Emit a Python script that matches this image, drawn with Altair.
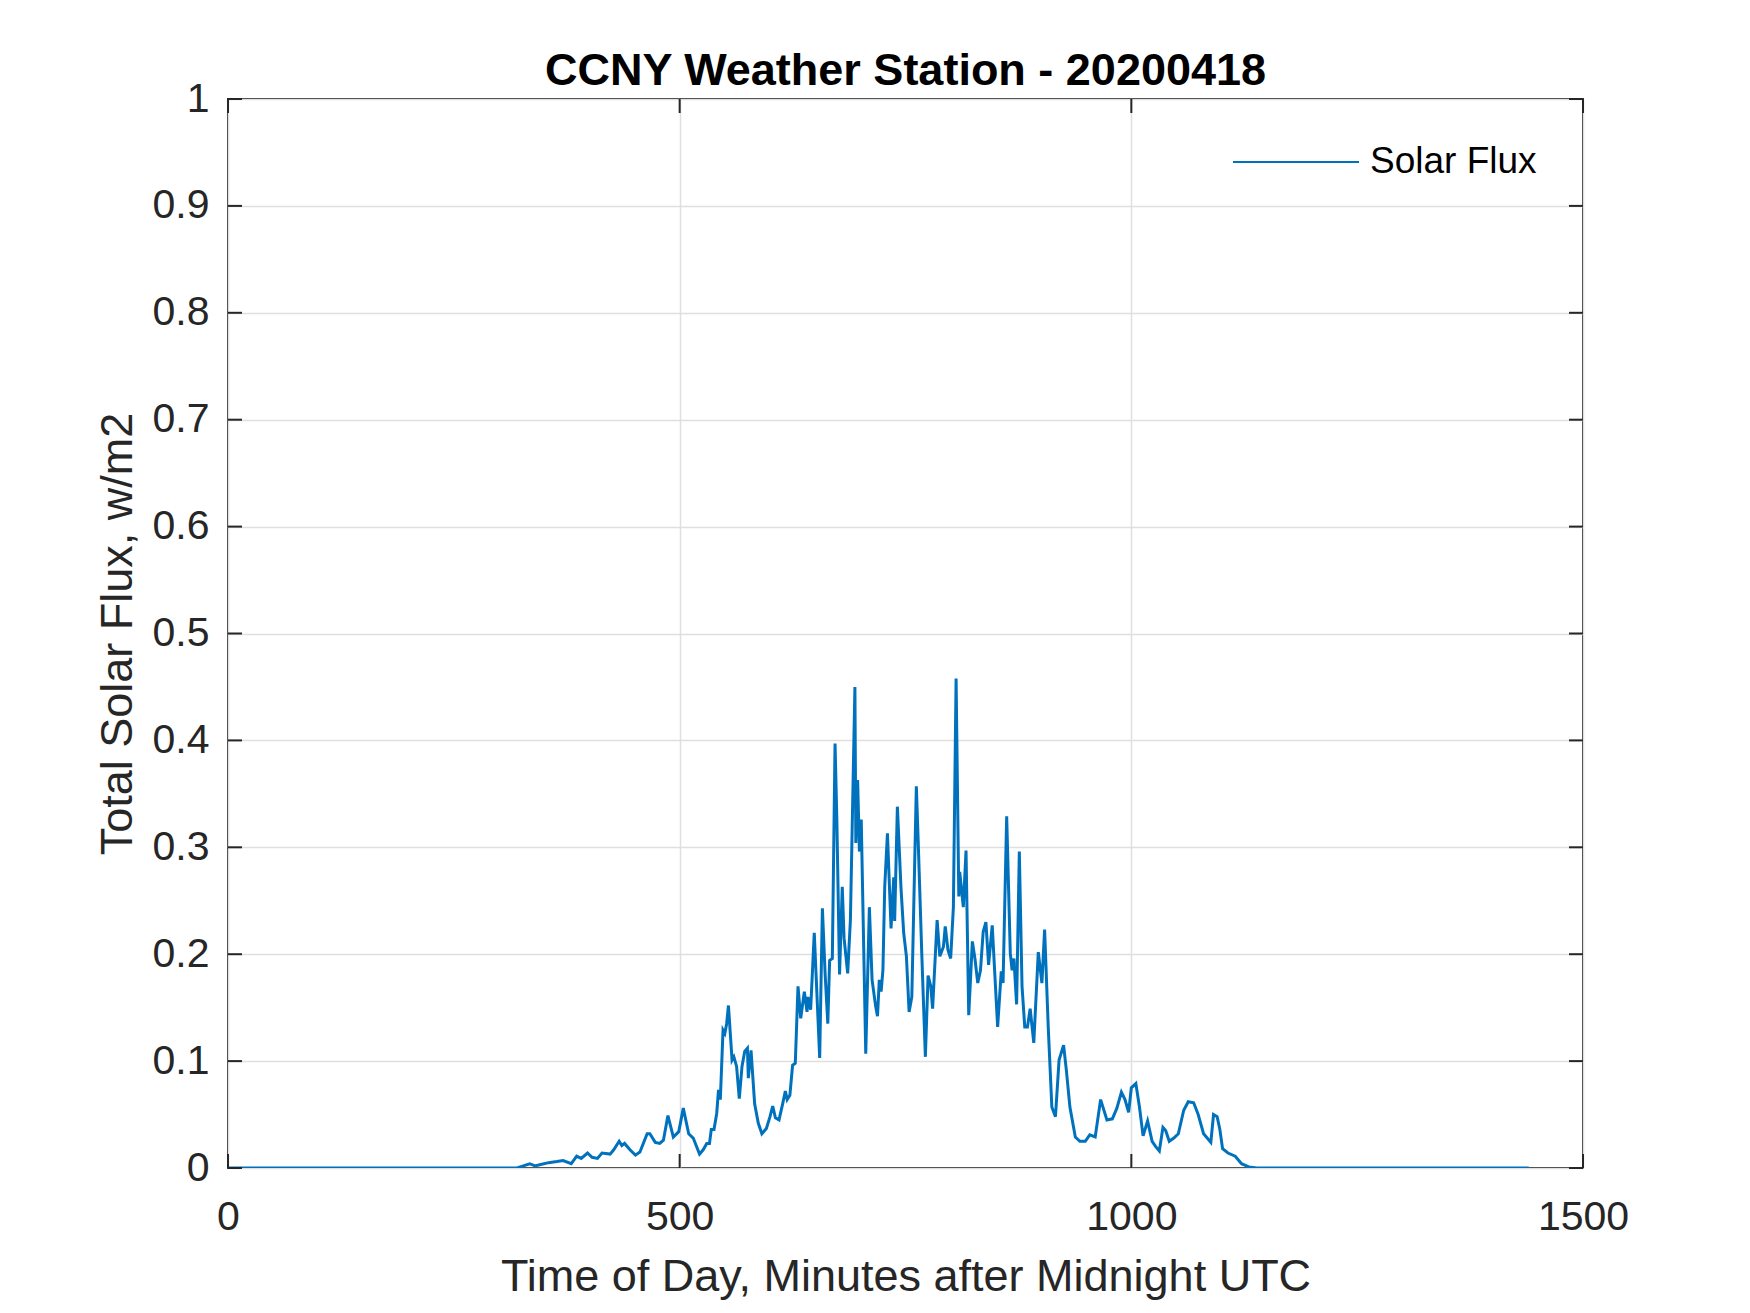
import altair as alt
import pandas as pd

# ---- data ----
minutes = [
    0, 320, 327, 334, 340, 345, 355, 364, 371, 380, 386, 391, 398, 403, 409,
    414, 423, 427, 433, 436, 439, 445, 451, 456, 464, 467, 473, 478, 482, 487,
    493, 499, 504, 510, 515, 522, 526, 530, 533, 535, 538, 541, 543, 545, 548,
    550, 552, 554, 558, 560, 563, 566, 569, 572, 575, 576, 579, 583, 587,
    591, 596, 600, 603, 606, 610, 614, 617, 619, 622, 625, 628, 631, 634, 638,
    641, 642, 645, 649, 651, 655, 658, 661, 664, 666, 669, 672, 674, 677, 680,
    682, 686, 689, 694, 695, 697, 699, 701, 706, 710, 713, 717, 719, 721, 723,
    725, 727, 730, 734, 737, 738, 741, 745, 748, 751, 754, 757, 762, 764, 768,
    772, 775, 778, 780, 785, 788, 792, 794, 797, 800, 803, 806, 809, 810, 814,
    817, 820, 824, 827, 830, 833, 836, 839, 842, 846, 852, 856, 858, 862, 866,
    868, 870, 873, 876, 879, 882, 885, 888, 892, 897, 901, 904, 908, 912, 916,
    920, 925, 928, 932, 938, 943, 949, 954, 960, 966, 973, 979, 984, 989, 993,
    997, 1000, 1005, 1009, 1013, 1018, 1023, 1027, 1031, 1035, 1038, 1042, 1047,
    1052, 1058, 1063, 1069, 1074, 1080, 1083, 1088, 1091, 1095, 1098, 1101,
    1107, 1115, 1122, 1130, 1139, 1440,
]
flux = [
    0.000, 0.000, 0.002, 0.004, 0.002, 0.003, 0.005, 0.006, 0.007, 0.004, 0.011, 0.009, 0.014, 0.010, 0.009,
    0.014, 0.013, 0.017, 0.025, 0.021, 0.023, 0.017, 0.012, 0.015, 0.032, 0.032, 0.024, 0.023, 0.026, 0.049,
    0.029, 0.034, 0.056, 0.032, 0.028, 0.013, 0.017, 0.023, 0.023, 0.036, 0.036, 0.051, 0.073, 0.064, 0.129,
    0.126, 0.135, 0.152, 0.101, 0.104, 0.095, 0.065, 0.095, 0.109, 0.112, 0.084, 0.110, 0.060, 0.042,
    0.032, 0.037, 0.048, 0.058, 0.047, 0.045, 0.060, 0.072, 0.064, 0.068, 0.096, 0.098, 0.170, 0.140, 0.165,
    0.146, 0.160, 0.148, 0.220, 0.181, 0.103, 0.243, 0.182, 0.135, 0.194, 0.196, 0.397, 0.326, 0.181, 0.263,
    0.215, 0.182, 0.232, 0.450, 0.304, 0.363, 0.296, 0.326, 0.107, 0.244, 0.176, 0.151, 0.142, 0.176, 0.165,
    0.185, 0.263, 0.313, 0.224, 0.272, 0.231, 0.338, 0.262, 0.220, 0.198, 0.146, 0.160, 0.357, 0.307, 0.201,
    0.104, 0.180, 0.170, 0.149, 0.232, 0.198, 0.207, 0.226, 0.204, 0.196, 0.244, 0.458, 0.254, 0.277, 0.244,
    0.297, 0.143, 0.212, 0.195, 0.173, 0.185, 0.221, 0.230, 0.190, 0.227, 0.132, 0.184, 0.173, 0.329, 0.201,
    0.185, 0.196, 0.153, 0.296, 0.170, 0.132, 0.132, 0.149, 0.117, 0.202, 0.173, 0.223, 0.132, 0.057, 0.048,
    0.101, 0.115, 0.092, 0.057, 0.029, 0.025, 0.025, 0.031, 0.029, 0.064, 0.045, 0.046, 0.056, 0.071, 0.064,
    0.052, 0.075, 0.079, 0.057, 0.030, 0.044, 0.025, 0.020, 0.016, 0.038, 0.035, 0.025, 0.028,
    0.032, 0.054, 0.062, 0.061, 0.050, 0.032, 0.029, 0.024, 0.050, 0.048, 0.036, 0.018,
    0.014, 0.011, 0.004, 0.001, 0.000, 0.000,
]
assert len(minutes) == len(flux)

series_name = "Solar Flux"
x_ticks = [0, 500, 1000, 1500]
y_ticks = [0, 0.1, 0.2, 0.3, 0.4, 0.5, 0.6, 0.7, 0.8, 0.9, 1.0]
chart_title = "CCNY Weather Station - 20200418"
x_title = "Time of Day, Minutes after Midnight UTC"
y_title = "Total Solar Flux, w/m2"

df = pd.DataFrame({"minute": minutes, "flux": flux, "series": series_name})
xt = pd.DataFrame({"v": x_ticks})
yt = pd.DataFrame({"v": y_ticks})

# ---- style ----
FONT = "Liberation Sans"
W, H = 1355, 1069
AX = "#262626"
GRID = "#dfdfdf"
TICK_Y = 14 / H          # inward tick length in y units
TICK_X = 14 / (W / 1500)  # inward tick length in x units

xscale = alt.Scale(domain=[0, 1500], nice=False, zero=False)
yscale = alt.Scale(domain=[0, 1], nice=False, zero=False)

line = alt.Chart(df).mark_line(strokeWidth=3, clip=True).encode(
    x=alt.X(
        "minute:Q", scale=xscale,
        axis=alt.Axis(
            values=x_ticks, format="d", title=x_title, grid=True, gridColor=GRID, gridWidth=1.5,
            ticks=False, tickSize=0, domain=False,
            labelFont=FONT, labelFontSize=41, labelColor=AX, labelPadding=29,
            labelFlush=False, labelOverlap=False,
            titleFont=FONT, titleFontSize=45, titleFontWeight="normal", titleColor=AX,
            titleX=W / 2, titleY=122, titleBaseline="alphabetic", titleAlign="center",
        ),
    ),
    y=alt.Y(
        "flux:Q", scale=yscale,
        axis=alt.Axis(
            values=y_ticks, format="~g", title=y_title, grid=True, gridColor=GRID, gridWidth=1.5,
            ticks=False, tickSize=0, domain=False,
            labelFont=FONT, labelFontSize=41, labelColor=AX, labelPadding=19,
            labelFlush=False, labelOverlap=False,
            titleFont=FONT, titleFontSize=45, titleFontWeight="normal", titleColor=AX,
            titleAngle=270, titleX=-97, titleY=H / 2, titleBaseline="alphabetic", titleAlign="center",
        ),
    ),
    color=alt.Color(
        "series:N",
        scale=alt.Scale(range=["#0072BD"]),
        legend=alt.Legend(
            title=None, orient="none", legendX=1004, legendY=-1,
            symbolType="stroke", symbolSize=126 * 126, symbolStrokeWidth=2,
            labelFont=FONT, labelFontSize=37, labelColor="black", labelOffset=10,
            labelLimit=500, padding=0,
        ),
    ),
)

tick_style = dict(color=AX, strokeWidth=2)
ticks_bottom = alt.Chart(xt).mark_rule(**tick_style).encode(
    x="v:Q", y=alt.datum(0), y2=alt.datum(TICK_Y))
ticks_top = alt.Chart(xt).mark_rule(**tick_style).encode(
    x="v:Q", y=alt.datum(1), y2=alt.datum(1 - TICK_Y))
ticks_left = alt.Chart(yt).mark_rule(**tick_style).encode(
    y="v:Q", x=alt.datum(0), x2=alt.datum(TICK_X))
ticks_right = alt.Chart(yt).mark_rule(**tick_style).encode(
    y="v:Q", x=alt.datum(1500), x2=alt.datum(1500 - TICK_X))

chart = alt.layer(line, ticks_bottom, ticks_top, ticks_left, ticks_right).properties(
    width=W, height=H,
    title=alt.TitleParams(
        chart_title, font=FONT, fontSize=45, fontWeight="bold", color="black",
        anchor="middle", baseline="alphabetic", offset=14, dy=66,
    ),
    autosize=alt.AutoSizeParams(type="none"),
    padding={"left": 220, "top": 91, "right": 159, "bottom": 137},
    background="white",
).configure_view(stroke=AX, strokeWidth=2)

chart.save("out.html", embed_options={"renderer": "svg", "actions": False})
